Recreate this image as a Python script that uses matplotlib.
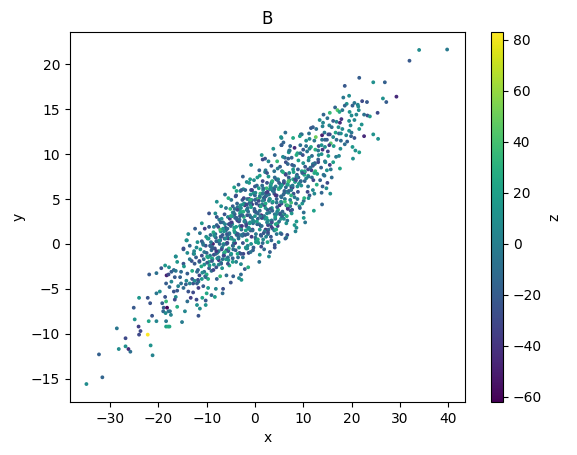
import matplotlib
matplotlib.use("Agg")
import matplotlib.pyplot as plt

# values, grouped by region of the cloud
tail_low_x = [-34.9,-31.6,-32.3,-28.2,-26.8,-26.2,-25.8,-21.2,-21.6,-22.2,
              -24,-26.8,-28.6,-24.1,-23.7,-24.9,-25.1,-22,-21.3,-20.4,
              -18.4,-18,-17.7,-18.4,-15.1,-11.7,-24,-22.2,-21.7,-20.4]
tail_low_y = [-15.6,-14.85,-12.3,-11.7,-11.4,-11.7,-12.0,-12.4,-11.3,-10.1,
              -10.1,-10.5,-9.4,-9.2,-9.7,-8.4,-7.1,-8.6,-8.0,-8.6,
              -9.2,-9.2,-9.2,-8.6,-8.7,-8,-6,-6,-6.6,-5.5]
tail_low_z = [8,-15,-18,8,10,-45,-10,3,12,83,
              -30,-30,-5,-35,-30,12,-22,22,-25,5,
              20,28,25,-3,-2,-25,15,-25,-25,-5]

band_low_x = [-19.4,-21.9,-20.4,-18.6,-17.8,-18.3,-17.9,-17.3,-16.8,-16.4,
              -16.1,-16.4,-14.8,-14.8,-14.1,-14,-18.4,-17.7,-17.3,-16.6,
              -15.5,-15.3,-15.9,-16.8,-16.1,-14.8,-14.2,-14.3,-13.8,-12.8,
              -13.3,-14,-16.4,-16.6,-16.1,-17.6,-14.5,-11.4,-10.2,-10.9,
              -12.1,-10,-9,-8.1,-6.6,-9.7,-10.7,-11.7,-12.8,-11.7,
              -10.3,-9.7,-7.9,-7.2,-5.9,-4.5,-2.8,-2.9,-2.1,-2.9,
              -19.7,-18.6,-18.4,-19.2,-18.9,-18.2,-19,-18.5,-17.9,-17.4]
band_low_y = [-2.7,-3.4,-3.25,-2.4,-2.6,-3.5,-3.4,-3.1,-2.9,-3,
              -2,-1.4,-2.2,-0.6,0.4,-1,-4.4,-4.8,-4.2,-3.7,
              -3.7,-4.4,-4.7,-5.3,-5.2,-4.9,-4.1,-4.5,-5.3,-5.4,
              -6,-6.4,-5.9,-6.2,-7,-7.5,-7.5,-7.2,-6.8,-6,
              -6.2,-5.5,-5.7,-5,-5,-4.9,-4.7,-4.9,-4.4,-4.2,
              -3.6,-3.9,-3.9,-3.6,-3.5,-3.6,-4,-3.4,-2.8,-2.25,
              -5.3,-5.9,-6.4,-6.6,-7.1,-7.1,-7.5,-7.7,-7.5,-7.9]
band_low_z = [-25,-22,-8,15,10,-50,-30,-20,-12,-5,
              15,12,-25,-20,12,8,-20,-15,5,-22,
              -18,-8,3,-25,-22,-12,5,-18,-25,-30,
              -35,-10,8,-28,28,-5,5,8,12,22,
              -30,25,-15,5,-28,18,-20,-35,-25,3,
              -25,28,-15,35,-10,-20,15,-12,-18,5,
              10,-25,35,-18,-20,-60,-15,8,-5,3]

band_mid_x = [-16.4,-14.8,-14.2,-13.5,-13.1,-12.6,-12.2,-11.9,-11.4,-11,
              -10.4,-10.1,-9.5,-9.2,-8.7,-8.5,-8.2,-7.9,-7.4,-7,
              -15.3,-14.7,-14,-13.5,-13,-12.5,-12,-11.5,-11,-10.5,
              -10,-9.5,-9,-8.5,-8,-7.5,-7,-6.5,-6,-5.5,
              -13.5,-13,-12.5,-12,-11.5,-11,-10.5,-10,-9.5,-9,
              -8.5,-8,-7.5,-7,-6.5,-6,-5.5,-5,-4.5,-4,
              -12.7,-12.1,-11.3,-10.8,-10.2,-9.6,-9.1,-8.6,-8.1,-7.6,
              -7.1,-6.6,-6.1,-5.6,-5.1,-4.6,-4.1,-3.6,-3.1,-2.6,
              -11.8,-11.1,-10.6,-9.9,-9.3,-8.8,-8.3,-7.8,-7.3,-6.8,
              -6.3,-5.8,-5.3,-4.8,-4.3,-3.8,-3.3,-2.8,-2.3,-1.8,
              -10.7,-9.8,-9.1,-8.4,-7.7,-7.2,-6.7,-6.2,-5.7,-5.2,
              -4.7,-4.2,-3.7,-3.2,-2.7,-2.2,-1.7,-1.2,-0.7,-0.2,
              -8.9,-8.1,-7.5,-6.9,-6.4,-5.9,-5.4,-4.9,-4.4,-3.9,
              -3.4,-2.9,-2.4,-1.9,-1.4,-0.9,-0.4,0.1,0.6,1.1,
              -7.1,-6.4,-5.7,-5,-4.3,-3.6,-3.1,-2.6,-2.1,-1.6,
              -1.1,-0.6,-0.1,0.4,0.9,1.4,1.9,2.4,2.9,3.4,
              -5.3,-4.6,-3.9,-3.2,-2.5,-1.8,-1.3,-0.8,-0.3,0.2,
              0.7,1.2,1.7,2.2,2.7,3.2,3.7,4.2,4.7,5.2,
              -5.5,-4.6,-3.9,-3,-2.4,-1.2,-4.2,-3.4,-1,0.9,
              2.1,1.4,2.1,2.8,4.1,5.4,5.5,6.2,6.9,7.2]
band_mid_y = [-1.4,-0.5,0.4,-0.2,-1.9,-0.8,-1.5,0.2,1.2,0.3,
              1.7,0.8,1.9,1,0,1.9,1.1,3,2.7,4.2,
              -3.1,-2.5,-3.3,-1.7,-3,-2.2,-3.1,-2,-1.3,-2.3,
              -1,-2,-0.7,-1.2,0.3,-0.8,0.8,0,1.5,0.6,
              -4.4,-3.9,-4.1,-4.4,-3.5,-3.9,-3.1,-3.4,-2.7,-3,
              -2.3,-2.6,-1.8,-2.1,-1.3,-1.7,-0.8,-1.2,-0.2,-0.7,
              -1.1,-0.4,-0.6,0.1,-0.2,0.6,0.2,1.3,0.7,1.9,
              1.4,2.4,1.8,3,2.3,3.5,2.9,4.1,3.4,4.9,
              -2.9,-2.5,-1.7,-2.1,-1.3,-1.7,-0.5,-1,0,-0.4,
              0.6,0.1,1.1,0.6,1.8,1,2.5,1.6,3,2.2,
              -0.1,0.6,-0.3,0.9,0.3,1.6,1,2.2,1.7,2.8,
              2.2,3.3,2.7,3.9,3.2,4.5,3.8,5,4.4,5.6,
              -1.6,-1.1,-1.5,-0.6,-1,0,-0.5,0.7,0.1,1.2,
              0.6,1.8,1.1,2.4,1.7,3,2.3,3.6,2.8,4.2,
              0.8,1.4,0.9,2,1.5,2.6,2,3.2,2.6,3.8,
              3.2,4.4,3.7,5,4.3,5.6,4.9,6.2,5.5,6.8,
              -2.4,-1.6,-2,-1,-1.5,-0.5,-1,0,-0.4,0.5,
              0.1,1,0.5,1.6,1.1,2.2,1.7,2.8,2.3,3.4,
              5.1,4.2,5.4,5.9,6.1,6.8,3.9,6.6,7.2,8.2,
              8,9.9,9.5,9.2,9.9,11.9,11,9.6,9.5,10.4]
band_mid_z = [8,-28,10,-15,-25,5,-20,12,-5,-22,
              -35,8,-20,-12,-50,3,-18,-25,-5,10,
              -12,15,-20,-5,25,-22,-10,5,-28,12,
              -18,22,-8,-30,-15,8,-22,25,-12,-35,
              3,-25,8,-18,-32,15,-5,28,-20,-10,
              12,-25,-40,5,-15,20,-22,-8,30,-18,
              -22,5,18,-12,-28,8,-5,25,-18,-30,
              12,-8,-25,3,-38,15,-15,-5,22,-20,
              -15,25,-8,-20,-3,12,-28,30,-12,5,
              -22,-42,8,-18,18,-5,-30,-12,28,-25,
              -5,18,-30,8,-15,38,-22,3,-10,-35,
              15,-20,-8,25,-28,5,-15,-45,12,-5,
              20,-18,-5,-28,10,-12,32,-22,3,-35,
              -8,18,-15,-25,8,-40,-10,22,-18,-3,
              -22,12,-8,-18,28,-30,5,-12,-22,15,
              -5,-35,20,-10,-25,8,-18,35,-12,-28,
              25,-15,3,-22,-8,18,-30,10,-18,-3,
              28,-25,5,-40,-12,15,-22,-5,30,-15,
              30,-20,-22,5,12,18,-10,-15,15,-18,
              8,15,-25,5,-15,15,-22,-12,-18,10]

band_high_x = [-1.5,-1,-0.5,0,0.5,1,1.5,2,2.5,3,
               3.5,4,4.5,5,5.5,6,6.5,7,7.5,8,
               -0.8,-0.2,0.4,1,1.6,2.2,2.8,3.4,4,4.6,
               5.2,5.8,6.4,7,7.6,8.2,8.8,9.4,10,10.6,
               0.6,1.3,2,2.7,3.4,4.1,4.8,5.5,6.2,6.9,
               7.6,8.3,9,9.7,10.4,11.1,11.8,12.5,13.2,13.9,
               1.9,2.6,3.3,4,4.7,5.4,6.1,6.8,7.5,8.2,
               8.9,9.6,10.3,11,11.7,12.4,13.1,13.8,14.5,15.2,
               1,2.9,4.1,5.3,6.7,8.6,7.4,9.2,10.1,11.3,
               12,12.8,13.5,14.2,14.9,15.5,16.2,16.8,3.6,4.9,
               6,7.1,8.1,9,9.9,10.8,11.6,12.4,13.2,14,
               5.7,6.5,7.3,8,8.8,9.5,10.2,11,11.8,12.5,
               2.2,3.1,4.4,5.6,6.8,7.9,8.9,10,11,12.1,
               6.8,7.7,8.6,9.4,10.3,11.2,12,12.9,13.7,14.6]
band_high_y = [1.1,2.4,1.6,3.1,2.2,3.7,2.9,4.3,3.4,5,
               4,5.6,4.6,6.2,5.2,6.8,5.8,7.4,6.4,8,
               6,7.1,6.5,7.6,7,8.2,7.5,8.7,8.1,9.2,
               8.6,9.7,9.1,10.2,9.6,10.7,10.1,11,10.5,11.5,
               0.2,0.9,1.4,2.1,2.6,3.3,3.8,4.5,5,5.7,
               6.2,6.9,7.4,8.1,8.6,9.3,9.8,10.5,10.9,11.6,
               -0.6,0.2,0.8,1.5,2,2.8,3.3,4,4.6,5.2,
               5.8,6.5,7,7.6,8.2,8.9,9.4,10,9.2,9.8,
               -1.2,-1.4,-0.1,1.2,2.6,2.5,3.7,4.2,4.8,5.4,
               6,6.6,7.1,7.7,8.2,8.8,9.1,9.7,4.6,6.1,
               7,7.9,8.7,9.3,9.9,10.3,10.8,9,9.9,10.5,
               3.2,4.3,4.9,5.6,6.4,7,7.7,8.3,7.4,8.1,
               5.3,6.1,7.2,8.1,8.9,7.2,8.3,9,6.4,7.1,
               6.6,8.8,9.9,10.1,8,9.6,8.9,7.8,8.5,9.1]
band_high_z = [-18,5,-30,12,-22,-8,25,-35,3,-15,
               18,-25,-5,30,-12,-40,8,-20,-3,22,
               -25,8,-12,20,-32,-5,15,-22,-8,35,
               -18,5,-28,12,-15,-45,25,-8,-22,10,
               15,-20,3,-30,12,-10,28,-25,-5,8,
               -38,18,-15,22,-22,3,-12,30,-28,-5,
               -12,25,-22,5,-32,15,-8,-20,38,-3,
               -25,10,-15,28,-35,5,-18,12,-8,20,
               15,8,-25,12,-5,15,-30,22,-12,-22,
               5,28,-18,-8,12,-35,20,-3,-15,30,
               -22,5,-12,18,-28,-5,25,-18,8,-40,
               32,-15,3,-25,12,-8,22,-30,-12,35,
               -8,18,-28,5,-15,25,-20,10,-5,-30,
               12,-22,28,-8,-35,15,-3,22,-18,5]

# the crowded middle of the cloud
core_x = [-9.3,-8.4,-7.2,-6.6,-5.3,-4.8,-3.9,-3.1,-2.2,-1.4,
          -9.9,-8.8,-7.7,-6.1,-5.7,-4.2,-3.4,-2.7,-1.9,-0.6,
          -7.9,-6.9,-6.3,-5.1,-4.4,-3.7,-2.9,-2.3,-1.1,-0.3,
          -6.7,-5.9,-4.9,-4.1,-3.3,-2.6,-1.7,-0.9,0.2,0.9,
          -5.4,-4.7,-3.8,-3,-2.1,-1.5,-0.7,0.3,1.1,1.8,
          -4.3,-3.5,-2.8,-1.8,-1.2,-0.4,0.5,1.3,2.1,2.6,
          -3.2,-2.4,-1.6,-1,-0.1,0.7,1.5,2.3,3.1,3.8,
          -2,-1.3,-0.5,0.4,1.2,1.9,2.7,3.6,4.4,5.1,
          -0.8,0,0.8,1.7,2.4,3.3,4,4.8,5.6,6.3,
          0.1,1,1.8,2.5,3.4,4.2,5,5.7,6.6,7.3,
          1.6,2.3,3.2,3.9,4.7,5.5,6.4,7.1,7.9,8.7,
          2.8,3.5,4.3,5.2,6,6.8,7.6,8.5,9.3,10.2,
          4.5,5.3,6.1,6.9,7.8,8.6,9.4,10.3,11.1,12,
          -0.2,0.6,1.4,2.2,3,3.7,4.6,5.4,6.2,7,
          -3.6,-2.5,-1.6,-0.8,0.1,1,1.7,2.6,3.5,4.3,
          5.9,6.7,7.5,8.3,9.1,9.8,10.6,11.5,12.3,13.1,
          -11.8,-10.9,-10.2,-9.4,-8.6,-7.8,-7,-6.2,-5.6,-4.6,
          -12.6,-11.5,-10.5,-9.7,-8.9,-8,-7.3,-6.5,-5.8,-5,
          0.3,1.2,2,2.9,3.7,4.5,5.3,6.1,7,7.8,
          -1.7,-0.9,0,0.8,1.6,2.5,3.3,4.1,5,5.8]
core_y = [-0.2,1,0.4,1.7,1.2,2.4,1.9,3.1,2.5,3.6,
          -1.4,-0.5,-0.9,0.6,0.1,1.3,0.8,2,1.5,2.9,
          2.1,2.8,3.3,3.9,3.5,4.5,4,5.1,4.6,5.7,
          -1.7,-0.7,-1.1,0.1,-0.4,0.9,0.4,1.5,1.1,2.2,
          2.2,3.1,2.9,3.6,4.3,4,4.9,4.5,5.6,5.1,
          0.4,1.1,1,2,1.7,2.6,2.2,3.2,2.8,3.8,
          2.7,3.6,3.2,4.4,3.9,5,4.4,5.6,5,6.2,
          1,1.8,1.5,2.5,2,3.1,2.6,3.7,3.3,4.3,
          4.1,5.4,4.8,6,5.4,6.6,6.1,7.2,6.6,7.8,
          0.7,1.6,1.2,2.4,1.9,3,2.5,3.6,3.1,4.2,
          4.8,5.7,6.4,5.9,7.1,6.5,7.7,7.1,8.3,7.7,
          1.6,2.6,2.2,3.3,2.8,3.9,3.4,4.5,4,5.1,
          5,6.3,5.7,6.9,6.3,7.5,6.9,8.1,7.5,8.7,
          2.5,3.4,2.9,4,3.5,4.7,4.1,5.3,4.7,5.9,
          3.8,4.4,5,4.7,5.7,5.2,6.2,5.8,6.9,6.4,
          5.5,6.6,6,7.2,6.7,7.9,7.3,8.5,7.9,9.1,
          -4,-3.2,-3.7,-2.4,-2.9,-1.6,-2.2,-0.9,-1.5,-0.2,
          -1.1,-1.9,-0.9,-1.5,-0.3,-0.8,0.4,-0.1,1.1,0.6,
          3.5,4.2,5.2,4.8,5.9,5.4,6.6,5.9,7,6.5,
          4.4,5.5,4.9,6.2,5.6,6.8,6.2,7.4,6.8,8]
core_z = [-15,8,-28,12,-5,-35,18,-20,3,-10,
          25,-22,-8,5,-30,14,-12,-40,20,-3,
          -18,10,-25,32,-8,-15,5,-30,-12,18,
          -5,-22,15,-35,8,-12,28,-20,-2,10,
          -28,5,-15,22,-42,-8,12,-25,35,-10,
          12,-20,-5,-30,18,3,-15,-48,8,-22,
          -10,28,-25,5,-18,40,-8,-32,15,-3,
          -22,8,-12,20,-28,-5,12,-18,3,-38,
          18,-15,-30,8,-5,25,-20,10,-12,-25,
          -8,15,-22,3,-35,18,-10,-15,28,-2,
          5,-28,12,-18,-5,22,-32,-8,15,-20,
          -12,-3,25,-25,8,-40,14,-10,-18,30,
          -20,10,-8,18,-30,3,-15,25,-5,-22,
          8,-18,-32,12,-5,20,-25,-10,35,-15,
          -28,15,-8,-20,5,28,-12,-35,10,-3,
          -15,22,-5,-28,12,-18,3,-10,25,-30,
          -25,8,-12,18,-32,5,-20,30,-8,-15,
          10,-28,-5,22,-15,-38,12,-3,-22,20,
          -12,25,-20,5,-8,-30,15,-18,42,-5,
          -30,10,-15,20,-3,-25,8,-12,-20,28]

# second pass over the middle and the two long edges
fill_x = [-8.9,-7.5,-6.4,-5.5,-4.5,-3.6,-2.5,-1.6,-0.7,0.3,
          -8.2,-7.1,-6,-5,-4,-3,-2,-1,0,1,
          -6.8,-5.6,-4.6,-3.5,-2.4,-1.5,-0.4,0.6,1.6,2.7,
          -4.9,-3.8,-2.8,-1.7,-0.6,0.5,1.5,2.5,3.6,4.7,
          -2.9,-1.9,-0.9,0.2,1.3,2.3,3.4,4.4,5.5,6.5,
          -1.1,0,1.1,2.2,3.2,4.3,5.4,6.4,7.5,8.5,
          1.4,2.4,3.5,4.6,5.6,6.7,7.7,8.8,9.8,10.9,
          -13.8,-12.4,-11,-9.5,-7.9,-6.2,-4.3,-2.5,-0.8,1.6,
          3.8,5.9,7.9,9.7,11.6,13.4,15.1,16.3,17.8,18.9,
          -12,-10.2,-8.3,-6.7,-5,-3.3,-1.4,0.9,3.1,4.9,
          6.7,8.6,10.4,12.2,13.9,15.6,4.1,6.5,8.2,10.1]
fill_y = [-1.9,-2.3,-1.3,-1.8,-0.6,-1.1,0.1,-0.5,0.8,0.3,
          3.4,2.4,4,3.1,5.3,4.3,6,4.9,6.4,5.3,
          -2.7,-2.2,-2,-1.5,-1.1,-0.2,-0.7,0.5,0.1,1.3,
          4.9,5.9,6,6.9,6,7.4,6.5,7.9,7,8.4,
          -1.1,-0.4,-0.9,0.2,-0.3,0.8,0.4,1.6,1.1,2.3,
          2.3,3.6,3.1,4.5,3.9,5.4,4.7,6.3,5.4,7.1,
          2,2.9,2.4,3.6,3.1,4.3,3.8,5,4.5,5.8,
          1.1,1.7,2.3,3.4,4.7,5.5,6.3,7.5,8.8,9.4,
          10.6,11.3,11.8,12.2,12.9,13.8,10.3,10.9,11.5,12.1,
          -6.8,-6.3,-5.9,-5.5,-4.3,-3.8,-2.6,-2,-0.9,0.2,
          1,1.8,2.4,3.7,4.4,5.6,-0.4,0.7,2.1,3.5]
fill_z = [-20,5,-30,12,-12,25,-25,3,-38,15,
          8,-18,-5,28,-28,10,-15,32,-22,-3,
          12,-25,18,-8,-32,5,-18,25,-12,-28,
          -5,22,-20,8,-35,15,-10,-25,30,-2,
          -25,10,-8,20,-30,3,-15,28,-20,12,
          15,-22,-3,25,-18,-40,8,-12,32,-25,
          -10,18,-28,5,-15,35,-22,-5,12,-30,
          8,-20,14,-25,10,-8,20,-18,5,-30,
          12,-15,25,-5,-22,8,-30,18,-12,5,
          10,-22,18,-12,-25,5,28,-8,-18,12,
          -28,8,-5,20,-15,10,-25,3,15,-10]

tail_high_x = [39.8,34,32,29.3,27.2,26.5,25.4,26.9,24.5,21.6,
               18.6,18.3,19.5,22.2,23.2,20.6,21.3,21.4,20.2,19,
               18.6,16.6,17.1,17.5,18.1,15.5,14.2,15,19.6,21.5,
               21,20,22.6,23.3,23.8,19.5,20.6,19.8,22.1,21.6,
               17.9,16.2,16.9,17.6,14.1,14,12,12.7,15.4,15.9,
               17.3,18.1,6.3,9.5,9.3,11.2,5.5,14.4,13.9,15.2,
               15.5,16.7,17.4,17.8,19.5,20,20.6,19.9,22.6,24.5,
               25.5,12.6,11.3,12.3,14.5,14.9,16.2,16.9,15.7,15.4,
               19.1,18.6,20.2,20.8,21.6,20.3,17.7,17.4,7.3,5.5,
               7.1,10.6,11.3,13.8,14.5,13.1,15.7,17.6,15.9,14.4,
               15,14,14.8,13.8,11.1,12.3,4.5,6.3,8.4,10.1]
tail_high_y = [21.65,21.6,20.4,16.4,15.8,16.2,14.6,18,18,18.5,
               17.6,16.3,16.5,15.9,15.8,15.7,15.5,15.3,15.4,15.6,
               15.4,15.2,14.9,14.7,14.9,14.6,14.4,14,14.7,14.9,
               14.4,14.3,14.4,14.3,14.2,13.7,13.8,13.2,13.3,12.8,
               13.9,13.7,13.6,13.5,13.5,13.1,13,12.8,13.2,13,
               13,12.8,12.4,12.2,12,12.3,11.8,12.4,12.1,12.2,
               12.2,12.4,12.3,12.3,12.6,12.4,11.8,12,12,12.2,
               11.7,11.9,11.7,11.5,11.6,11.6,11.9,11.6,11.2,11,
               11.4,11.1,10.8,10.4,10.2,9.5,10.6,9.8,10.9,11,
               10.4,10.9,10.6,11,10.8,10.4,8.3,8.4,7.4,7.6,
               6.8,6.4,6.2,5.7,5.1,5.6,1.1,0.6,1.4,2.9]
tail_high_z = [-3,8,-22,-45,-20,10,-30,-18,10,-20,
               -22,-5,8,-30,-22,-5,3,8,-18,12,
               -15,-15,45,25,-5,35,-15,-8,12,8,
               5,8,-8,-25,15,8,5,5,12,15,
               -40,-20,5,-45,5,3,-20,-8,5,-10,
               10,5,-10,-12,18,-8,8,-5,-50,-30,
               -30,22,-15,8,12,-5,-25,-18,-45,12,
               10,50,5,-5,-15,-20,5,-10,45,-35,
               -18,-10,15,12,18,10,8,5,-15,-20,
               -5,-10,3,12,8,-5,-5,22,-12,-8,
               -30,-18,8,-15,10,5,-5,-18,3,15]

x = tail_low_x + band_low_x + band_mid_x + band_high_x + core_x + fill_x + tail_high_x
y = tail_low_y + band_low_y + band_mid_y + band_high_y + core_y + fill_y + tail_high_y
z = tail_low_z + band_low_z + band_mid_z + band_high_z + core_z + fill_z + tail_high_z

fig = plt.figure(figsize=(5.77, 4.55), dpi=100)
ax = fig.add_axes([70/577, 53/455, 395/577, 370/455])
cax = fig.add_axes([491/577, 53/455, 12/577, 370/455])

sc = ax.scatter(x, y, c=z, s=3, cmap="viridis", vmin=-62, vmax=83)
ax.set_xlim(-38.3, 43.5)
ax.set_ylim(-17.6, 23.6)
ax.set_title("B")
ax.set_xlabel("x")
ax.set_ylabel("y")

cb = fig.colorbar(sc, cax=cax)
cb.set_label("z")

fig.savefig("out.png", dpi=100)
